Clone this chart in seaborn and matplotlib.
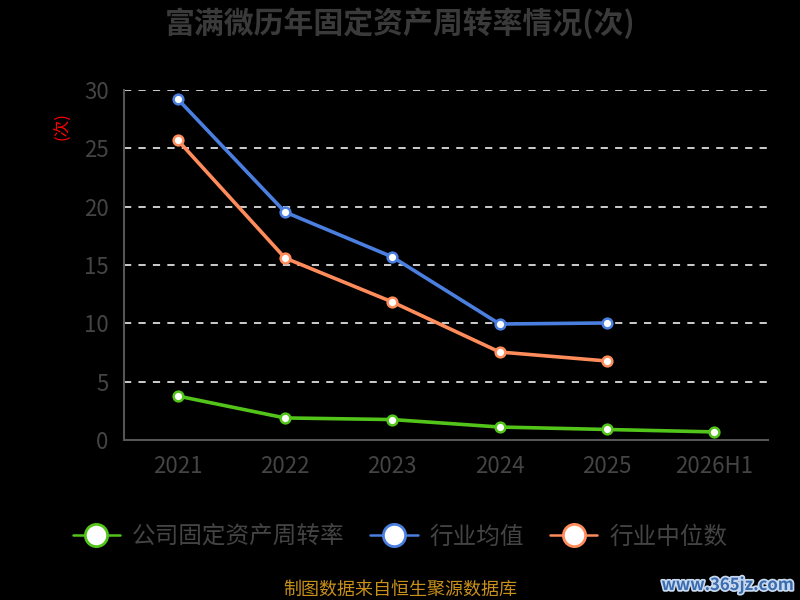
import matplotlib
matplotlib.use('Agg')
import matplotlib.pyplot as plt
import matplotlib.patheffects as pe
from matplotlib.lines import Line2D
import seaborn as sns

years = ['2021', '2022', '2023', '2024', '2025', '2026H1']
company = [3.77, 1.89, 1.75, 1.11, 0.90, 0.69]
ind_mean = [29.23, 19.54, 15.69, 9.94, 10.03]
ind_median = [25.71, 15.60, 11.83, 7.54, 6.77]

series_names = ['公司固定资产周转率', '行业均值', '行业中位数']
colors = ['#52c41a', '#4a7fe0', '#ff8c5a']

sns.set_style('dark')
plt.rcParams['font.family'] = ['Noto Sans CJK SC', 'DejaVu Sans']

fig = plt.figure(figsize=(8, 6), dpi=100, facecolor='black')
ax = fig.add_axes([0.155, 0.2667, 0.805, 0.5833])
ax.set_facecolor('black')

for vals, c, name in zip([company, ind_mean, ind_median], colors, series_names):
    sns.lineplot(x=years[:len(vals)], y=vals, ax=ax, color=c, lw=2.6, marker='o',
                 markersize=7, markerfacecolor='white', markeredgecolor=c,
                 markeredgewidth=1.8, zorder=3, label=name, legend=False)

ax.set_xlim(-0.5, 5.5)
ax.set_ylim(0, 30)
ax.set_yticks([0, 5, 10, 15, 20, 25, 30])
ax.set_xticks(range(len(years)))
ax.set_xticklabels(years)
ax.set_xticks([i - 0.5 for i in range(len(years) + 1)], minor=True)
ax.tick_params(axis='x', which='major', length=0, pad=11, labelsize=16, labelcolor='#444444')
ax.tick_params(axis='x', which='minor', length=7, width=1.5, color='#555555')
ax.tick_params(axis='y', length=8, width=1.5, color='#555555', pad=3, labelsize=16, labelcolor='#444444')

ax.grid(False)
ax.yaxis.grid(True, color='#dddddd', linestyle=(0, (4, 4)), lw=1.3)
ax.set_axisbelow(True)
for s in ['top', 'right']:
    ax.spines[s].set_visible(False)
for s in ['left', 'bottom']:
    ax.spines[s].set_color('#555555')
    ax.spines[s].set_linewidth(1.5)
ax.set_xlabel('')
ax.set_ylabel('')

fig.text(0.5, 0.962, '富满微历年固定资产周转率情况(次)', ha='center', va='center',
         fontsize=21.5, fontweight='bold', color='#3a3a3a')
fig.text(0.078, 0.79, '(次)', rotation=90, ha='center', va='center', fontsize=12, color='red')

handles = [Line2D([0], [0], color=c, lw=1.8, marker='o', markersize=16,
                  markerfacecolor='white', markeredgecolor=c, markeredgewidth=2)
           for c in colors]
leg = fig.legend(handles, series_names, loc='center', bbox_to_anchor=(0.5, 0.105), ncol=3,
                 frameon=False, fontsize=17, handlelength=2.0, columnspacing=1.1,
                 handletextpad=0.5)
for t in leg.get_texts():
    t.set_color('#444444')

fig.text(0.5, 0.017, '制图数据来自恒生聚源数据库', ha='center', va='center',
         fontsize=13, color='#c8901a')
fig.text(0.992, 0.025, 'www.365jz.com', ha='right', va='center', fontsize=12,
         fontweight='bold', color='#3a6cb0',
         path_effects=[pe.withStroke(linewidth=2.5, foreground='#c8d8ee')])

fig.savefig('out.png', dpi=100, facecolor='black')
